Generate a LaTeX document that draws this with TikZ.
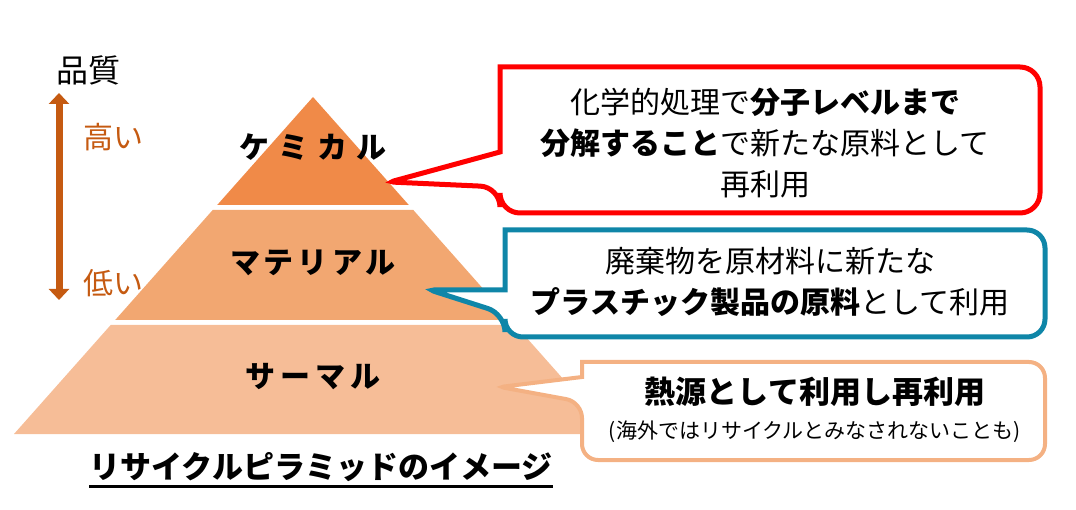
\documentclass[tikz,border=0pt]{standalone}
\usepackage{fontspec}
\setmainfont{Noto Sans CJK JP}
\usetikzlibrary{arrows.meta}
\definecolor{chemorange}{RGB}{240,138,72}
\definecolor{matorange}{RGB}{242,167,113}
\definecolor{thermpeach}{RGB}{246,189,151}
\definecolor{peachline}{RGB}{244,177,131}
\definecolor{tealline}{RGB}{15,134,168}
\definecolor{brownarrow}{RGB}{197,90,17}

\begin{document}
\begin{tikzpicture}[x=1pt, y=-1pt,
    tierlabel/.style={font=\bfseries\fontsize{30}{36}\selectfont},
    bubbletext/.style={align=center, font=\fontsize{30}{41}\selectfont},
    sidetext/.style={text=brownarrow, font=\fontsize{30}{34}\selectfont}]
    \useasboundingbox (0,0) rectangle (1076,510);

    % Pyramide
    \fill[chemorange] (313,97) -- (408.8,205) -- (217.2,205) -- cycle;
    \fill[matorange] (212.7,210) -- (413.3,210) -- (510.8,320) -- (115.2,320) -- cycle;
    \fill[thermpeach] (110.7,325) -- (515.3,325) -- (612,434) -- (14,434) -- cycle;

    % Etages
    \node[tierlabel] (chem) at (313,147) {ケ\hspace{9pt}ミ\hspace{9pt}カ\hspace{9pt}ル};
    \node[tierlabel] (mat) at (313,263) {マ\hspace{4pt}テ\hspace{4pt}リ\hspace{4pt}ア\hspace{4pt}ル};
    \node[tierlabel] (therm) at (313,377) {サ\hspace{5pt}ー\hspace{5pt}マ\hspace{5pt}ル};

    % Qualite
    \node[font=\fontsize{32}{36}\selectfont] (quality) at (88,70) {品質};
    \coordinate (high) at (59,93);
    \coordinate (low) at (59,300);
    \draw[brownarrow, line width=7pt, {Triangle[width=20pt,length=11pt]}-{Triangle[width=20pt,length=11pt]}] (high) -- (low);
    \node[sidetext] (hightext) at (113,137) {高い};
    \node[sidetext] (lowtext) at (113,283) {低い};

    % Titre
    \node[font=\bfseries\fontsize{31}{36}\selectfont, inner sep=0pt] (title) at (321,467) {リサイクルピラミッドのイメージ};
    \draw[line width=2.5pt] ([yshift=-8pt]title.base west) -- ([yshift=-8pt]title.base east);

    % Bulle rouge
    \coordinate (chemtip) at (390,182);
    \draw[red, line width=5pt, fill=white] (500,152) -- (500,67) [rounded corners=20pt] -- (1040,67) -- (1040,213) -- (500,213) -- (500,187) [rounded corners=4pt] -- (chemtip) [sharp corners] -- cycle;
    \node[bubbletext] (chemnote) at (765,143) {化学的処理で{\bfseries 分子レベルまで}\\{\bfseries 分解すること}で新たな原料として\\再利用};

    % Bulle bleue
    \coordinate (mattip) at (430,290);
    \draw[tealline, line width=5pt, fill=white] (505,290) -- (505,230) [rounded corners=18pt] -- (1045,230) -- (1045,337) -- (505,337) -- (505,314) [rounded corners=4pt] -- (mattip) [sharp corners] -- cycle;
    \node[bubbletext] (matnote) at (770,282) {廃棄物を原材料に新たな\\{\bfseries プラスチック製品の原料}として利用};

    % Bulle peche
    \coordinate (thermtip) at (500,387);
    \draw[peachline, line width=4pt, fill=white] (582,377) -- (582,362) [rounded corners=16pt] -- (1045,362) -- (1045,460) -- (582,460) -- (582,402) [rounded corners=4pt] -- (thermtip) [sharp corners] -- cycle;
    \node[font=\bfseries\fontsize{31}{36}\selectfont] (heatmain) at (815,392) {熱源として利用し再利用};
    \node[font=\fontsize{21}{25}\selectfont] (heatnote) at (815,432) {(海外ではリサイクルとみなされないことも)};
\end{tikzpicture}
\end{document}
